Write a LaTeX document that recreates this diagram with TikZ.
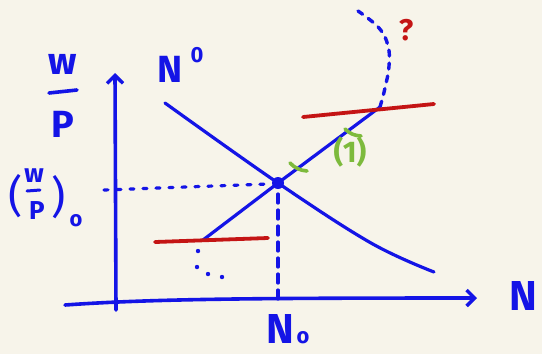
\documentclass[tikz,border=0pt]{standalone}
\usepackage{fontspec}
\setmainfont{Fira Sans}
\usetikzlibrary{arrows.meta}
\definecolor{bg}{HTML}{F7F4EA}
\definecolor{pen}{HTML}{1414E6}
\definecolor{redpen}{HTML}{C41414}
\definecolor{greenpen}{HTML}{7DBA3C}
\begin{document}
\begin{tikzpicture}[x=1bp,y=-1bp,line cap=round,line join=round,
  ink/.style={draw=pen,line width=3.2bp},
  axis/.style={draw=pen,line width=3.6bp,-{Straight Barb[length=8bp,width=16bp,line width=3.4bp]}},
  redline/.style={draw=redpen,line width=3.8bp},
  dashline/.style={draw=pen,line width=3.4bp,dash pattern=on 6bp off 7bp},
  dotline/.style={draw=pen,line width=3.2bp,dash pattern=on 4bp off 9bp},
  tick/.style={draw=greenpen,line width=3.6bp},
  lbl/.style={text=pen,inner sep=0pt,font=\fontsize{38}{38}\selectfont\bfseries},
  big/.style={text=pen,inner sep=0pt,font=\fontsize{42}{42}\selectfont\bfseries},
  small/.style={text=pen,inner sep=0pt,font=\fontsize{26}{26}\selectfont\bfseries},
  sup/.style={text=pen,inner sep=0pt,font=\fontsize{22}{22}\selectfont\bfseries}]
\fill[bg] (0,0) rectangle (542,354);
\useasboundingbox (0,0) rectangle (542,354);

% coordinates
\coordinate (yb) at (116,310);
\coordinate (yt) at (115,73);
\coordinate (xl) at (65,305);
\coordinate (xr) at (477,298);
\coordinate (E) at (278,183);
\coordinate (S1) at (203,240);
\coordinate (S2) at (380,107);
\coordinate (D1) at (165,103);
\coordinate (D2) at (434,272);
\coordinate (H1) at (104,190);
\coordinate (H2) at (268,184);
\coordinate (V1) at (278,194);
\coordinate (V2) at (278,300);
\coordinate (R1a) at (155,242);
\coordinate (R1b) at (268,238);
\coordinate (R2a) at (303,117);
\coordinate (R2b) at (434,104);

% axes
\draw[axis] (yb) -- (yt);
\draw[axis] (xl) .. controls (150,299) and (250,298) .. (xr);

% demand curve
\draw[ink] plot[smooth,tension=0.6] coordinates {(D1) (E) (371,243) (D2)};

% supply line
\draw[ink] (S1) -- (E) -- (S2);
\draw[dashline] plot[smooth,tension=0.7] coordinates {(S2) (385,88) (389,66) (388,46) (379,28) (358,11)};
\foreach \p in {(198,251),(197,267),(208,274),(222,277)}
  \fill[pen] \p circle (2.2bp);

% dotted guides
\draw[dotline] (H1) -- (H2);
\draw[draw=pen,line width=3.2bp,dash pattern=on 9bp off 7bp] (V1) -- (V2);

% red lines
\draw[redline] (R1a) -- (R1b);
\draw[redline] (R2a) -- (R2b);

% equilibrium point
\fill[pen] (E) circle (6bp);

% green ticks and label
\draw[tick] (290,163) to[bend right=20] (307,171);
\draw[tick] (345,129) to[bend right=20] (361,136);
\node[text=greenpen,inner sep=0pt,font=\fontsize{30}{30}\selectfont\bfseries] (one) at (350,152) {(1)};

% red question mark
\node[text=redpen,inner sep=0pt,font=\fontsize{30}{30}\selectfont\bfseries] (q) at (406,30) {?};

% labels
\node[lbl] (w1) at (63,64) {w};
\draw[ink,line width=3.6bp] (49,93) -- (77,90);
\node[lbl] (p1) at (63,124) {P};

\node[lbl] (nd) at (170,69) {N};
\node[sup] (nd0) at (197,55) {0};

\node[text=pen,inner sep=0pt,font=\fontsize{44}{44}\selectfont] (lp) at (16,196) {(};
\node[small] (w2) at (34,176) {w};
\draw[pen,line width=3bp] (27,191) -- (40,190);
\node[small] (p2) at (37,211) {P};
\node[text=pen,inner sep=0pt,font=\fontsize{44}{44}\selectfont] (rp) at (59,197) {)};
\node[sup] (o2) at (76,221) {o};

\node[big] (n0) at (280,329) {N};
\node[sup] (n0s) at (303,338) {o};

\node[big,anchor=west] (nx) at (509,296) {N};
\end{tikzpicture}
\end{document}
